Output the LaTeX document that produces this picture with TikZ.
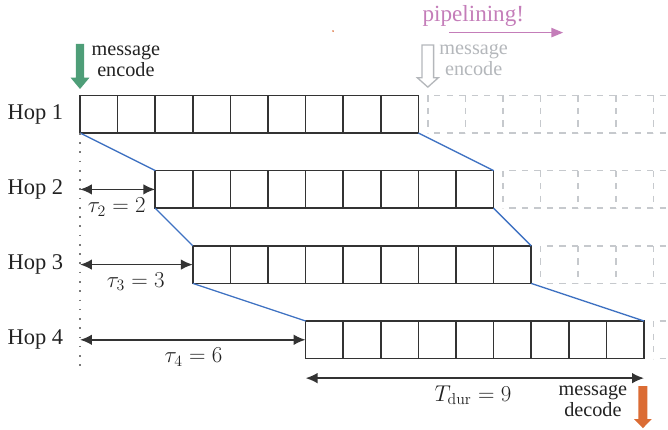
\documentclass[tikz,border=0pt]{standalone}
\usepackage[no-math]{fontspec}
\setmainfont{Liberation Serif}
\usetikzlibrary{arrows.meta}
\definecolor{boxc}{HTML}{333333}
\definecolor{textc}{HTML}{222222}
\definecolor{bluec}{HTML}{3F72C2}
\definecolor{greenc}{HTML}{4E9E78}
\definecolor{orangec}{HTML}{DB6C34}
\definecolor{pinkc}{HTML}{C47DB9}
\definecolor{dgray}{HTML}{C6C9CD}
\definecolor{tgray}{HTML}{B4B7BB}
\definecolor{dotc}{HTML}{7A7A7A}
\tikzset{
  rowbox/.style={draw=boxc, line width=1.3pt, minimum width=9cm, minimum height=1cm, inner sep=0pt, outer sep=0pt},
  divider/.style={draw=boxc, line width=1.2pt},
  dgrid/.style={draw=dgray, line width=1.1pt, dash pattern=on 4.74pt off 4.74pt, dash phase=4.74pt},
  dgridv/.style={draw=dgray, line width=1.1pt, dash pattern=on 4.74pt off 4.74pt},
  blueline/.style={draw=bluec, line width=1pt},
  dotline/.style={draw=dotc, line width=1.2pt, dash pattern=on 1.2pt off 5.8pt},
  dimarrow/.style={draw=boxc, line width=1.3pt, {Latex[length=9pt,width=8pt]}-{Latex[length=9pt,width=8pt]}},
  hoplabel/.style={anchor=east, inner sep=0pt, text=textc, font=\fontsize{17}{20}\selectfont},
  mathlabel/.style={inner sep=0pt, text=textc, font=\fontsize{18.5}{21}\selectfont},
  msgtext/.style={inner sep=0pt, align=center, font=\fontsize{15.3}{15.6}\selectfont},
}
\begin{document}
\begin{tikzpicture}[x=1cm,y=1cm]
\useasboundingbox (-2.128,-7.899) rectangle (15.638,3.537);
\clip (-2.128,-7.899) rectangle (15.638,3.537);

% dashed future blocks
\foreach \s/\b in {9.25/0, 11.25/-2, 12.25/-4, 15.25/-6} {
  \draw[dgrid] (\s,\b) -- (17,\b);
  \draw[dgrid] (\s,\b+1) -- (17,\b+1);
  \foreach \k in {0,...,7} \draw[dgridv] (\s+\k,\b+1) -- (\s+\k,\b);
}

% rows
\node[rowbox] (r1) at (4.5,0.5) {};
\node[rowbox] (r2) at (6.5,-1.5) {};
\node[rowbox] (r3) at (7.5,-3.5) {};
\node[rowbox] (r4) at (10.5,-5.5) {};
\foreach \r in {r1,r2,r3,r4}
  \foreach \i in {1,...,8}
    \draw[divider] ([xshift=\i cm]\r.north west) -- ([xshift=\i cm]\r.south west);

% blue connectors
\draw[blueline] (r1.south west) -- (r2.north west);
\draw[blueline] (r1.south east) -- (r2.north east);
\draw[blueline] (r2.south west) -- (r3.north west);
\draw[blueline] (r2.south east) -- (r3.north east);
\draw[blueline] (r3.south west) -- (r4.north west);
\draw[blueline] (r3.south east) -- (r4.north east);

% dotted time origin
\coordinate (d0) at (0,0);
\coordinate (d1) at (0,-6.36);
\draw[dotline] (d0) -- (d1);

% hop labels
\node[hoplabel] (h1) at (-0.44,0.5) {Hop 1};
\node[hoplabel] (h2) at (-0.44,-1.5) {Hop 2};
\node[hoplabel] (h3) at (-0.44,-3.5) {Hop 3};
\node[hoplabel] (h4) at (-0.44,-5.5) {Hop 4};

% delay arrows
\coordinate (t2) at (0,-1.5);
\coordinate (t3) at (0,-3.5);
\coordinate (t4) at (0,-5.5);
\draw[dimarrow] (t2) -- (r2.west);
\draw[dimarrow] (t3) -- (r3.west);
\draw[dimarrow] (t4) -- (r4.west);
\node[mathlabel] (l2) at (0.98,-1.97) {$\tau_2 = 2$};
\node[mathlabel] (l3) at (1.48,-3.95) {$\tau_3 = 3$};
\node[mathlabel] (l4) at (3.02,-5.96) {$\tau_4 = 6$};

% duration
\coordinate (ta) at (6,-6.52);
\coordinate (tb) at (15,-6.52);
\draw[dimarrow] (ta) -- (tb);
\node[mathlabel] (ld) at (10.45,-6.97) {$T_{\mathrm{dur}} = 9$};

% message encode (green)
\fill[greenc] (-0.11,2.37) -- (0.11,2.37) -- (0.11,1.47) -- (0.25,1.47) -- (0,1.17) -- (-0.25,1.47) -- (-0.11,1.47) -- cycle;
\node[msgtext, text=textc] (enc) at (1.22,1.92) {message\\encode};

% message encode (grey, next message)
\draw[tgray, line width=1pt, line join=miter] (9.095,2.34) -- (9.405,2.34) -- (9.405,1.47) -- (9.53,1.47) -- (9.25,1.22) -- (8.97,1.47) -- (9.095,1.47) -- cycle;
\node[msgtext, text=tgray] (enc2) at (10.47,1.94) {message\\encode};

% message decode (orange)
\fill[orangec] (14.85,-6.73) -- (15.09,-6.73) -- (15.09,-7.61) -- (15.205,-7.61) -- (14.97,-7.85) -- (14.735,-7.61) -- (14.85,-7.61) -- cycle;
\node[msgtext, text=textc] (dec) at (13.64,-7.13) {message\\decode};

% pipelining
\node[inner sep=0pt, text=pinkc, font=\fontsize{17.5}{20}\selectfont] (pipe) at (10.46,3.12) {pipelining!};
\coordinate (p1) at (9.81,2.67);
\coordinate (p2) at (12.85,2.67);
\draw[pinkc, line width=1.3pt, -{Triangle[length=9pt,width=7pt]}] (p1) -- (p2);

% small orange mark
\fill[orangec] (6.73,2.71) circle (0.7pt);
\end{tikzpicture}
\end{document}
